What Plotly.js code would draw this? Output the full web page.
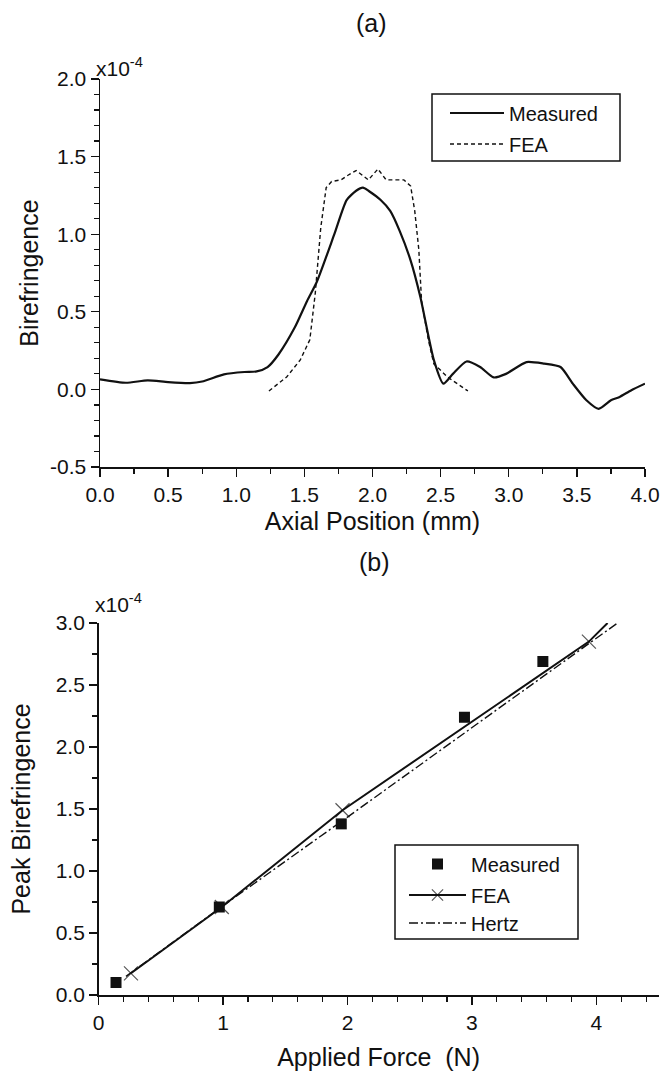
<!DOCTYPE html>
<html>
<head>
<meta charset="utf-8">
<script src="https://cdn.plot.ly/plotly-3.0.1.min.js"></script>
<style>html,body{margin:0;padding:0;background:#fff;}#chart{width:661px;height:1074px;}</style>
</head>
<body>
<div id="chart"></div>
<script>
// ---------- Panel (a): birefringence vs axial position (units of 1e-4) ----------
var measX = [0.00,0.19,0.35,0.50,0.66,0.75,0.91,1.06,1.15,1.23,1.31,1.43,1.52,1.59,1.72,1.81,1.88,1.93,1.97,2.06,2.13,2.20,2.28,2.35,2.45,2.52,2.59,2.69,2.79,2.89,2.98,3.13,3.26,3.38,3.47,3.57,3.66,3.75,3.81,3.90,4.00];
var measY = [0.065,0.043,0.058,0.047,0.041,0.051,0.097,0.112,0.116,0.144,0.225,0.40,0.57,0.69,1.00,1.22,1.28,1.30,1.28,1.22,1.15,1.02,0.83,0.60,0.19,0.037,0.10,0.18,0.144,0.077,0.10,0.176,0.166,0.144,0.037,-0.07,-0.125,-0.07,-0.05,-0.005,0.037];
var feaX = [1.24,1.37,1.47,1.54,1.58,1.62,1.66,1.70,1.77,1.82,1.88,1.97,2.04,2.10,2.23,2.28,2.31,2.34,2.36,2.41,2.45,2.55,2.70];
var feaY = [-0.01,0.08,0.19,0.32,0.62,1.04,1.30,1.34,1.35,1.38,1.41,1.35,1.42,1.35,1.35,1.31,1.15,0.90,0.57,0.32,0.165,0.08,-0.01];
var aYTicks = [-0.5,0.0,0.5,1.0,1.5,2.0];
var aYLabels = ["-0.5","0.0","0.5","1.0","1.5","2.0"];

// ---------- Panel (b): peak birefringence vs applied force (units of 1e-4) ----------
var forceMeas = [0.14,0.97,1.95,2.94,3.57];
var peakMeas  = [0.10,0.71,1.38,2.24,2.69];
var forceFEA  = [0.26,0.99,1.96,3.94,4.09];
var peakFEA   = [0.175,0.71,1.49,2.85,3.00];
var forceHertz = [0.22,1.00,2.00,3.00,4.17];
var peakHertz  = [0.15,0.72,1.435,2.155,3.00];

var W = 661, H = 1074;
function px(x){ return x / W; }
function py(y){ return 1 - y / H; }

var FONT = "Liberation Sans, Arial, Helvetica, sans-serif";

var traces = [
  {x: measX, y: measY, xaxis:'x', yaxis:'y', mode:'lines', name:'Measured',
   line:{color:'#111', width:2.2, shape:'spline', smoothing:0.6}, legend:'legend'},
  {x: feaX, y: feaY, xaxis:'x', yaxis:'y', mode:'lines', name:'FEA',
   line:{color:'#111', width:1.4, dash:'4px,3px'}, legend:'legend2'},
  {x: forceHertz, y: peakHertz, xaxis:'x2', yaxis:'y2', mode:'lines', name:'Hertz',
   line:{color:'#111', width:1.4, dash:'9px,3px,2px,3px'}, legend:'legend5'},
  {x: forceFEA, y: peakFEA, xaxis:'x2', yaxis:'y2', mode:'lines+markers', name:'FEA',
   line:{color:'#111', width:2},
   marker:{symbol:'x-thin-open', size:[14,14,14,14,0], color:'#111', line:{color:'#111', width:1.2}},
   legend:'legend4'},
  {x: forceMeas, y: peakMeas, xaxis:'x2', yaxis:'y2', mode:'markers', name:'Measured',
   marker:{symbol:'square', size:11, color:'#111'}, legend:'legend3'}
];

var axBase = {
  showline:true, linecolor:'#111', linewidth:1.5, mirror:false,
  showgrid:false, zeroline:false,
  ticks:'outside', ticklen:8, tickwidth:1.3, tickcolor:'#111',
  tickfont:{family:FONT, size:21, color:'#111'},
  fixedrange:true
};
function ax(extra){ var o = JSON.parse(JSON.stringify(axBase)); for (var k in extra) o[k]=extra[k]; return o; }

function legendAt(x, y, iw){
  return {x:px(x), y:py(y), xanchor:'left', yanchor:'middle', bgcolor:'rgba(0,0,0,0)',
          borderwidth:0, itemwidth:iw, font:{family:FONT, size:20, color:'#111'}, itemclick:false};
}

var layout = {
  width: W, height: H,
  margin:{l:0, r:0, t:0, b:0},
  paper_bgcolor:'#fff', plot_bgcolor:'#fff',
  font:{family:FONT, color:'#111'},
  showlegend:true,
  xaxis: ax({domain:[px(100), px(645)], range:[0,4], anchor:'y', tick0:0, dtick:0.5, tickformat:'.1f',
    minor:{dtick:0.25, ticks:'outside', ticklen:5, tickwidth:1.2, tickcolor:'#111'},
    title:{text:'Axial Position (mm)', font:{family:FONT, size:25, color:'#111'}, standoff:8}}),
  yaxis: ax({domain:[py(467), py(79)], range:[-0.5,2.0], anchor:'x', tickmode:'array',
    tickvals:aYTicks, ticktext:aYLabels,
    minor:{tickmode:'linear', tick0:0, dtick:0.1, ticks:'outside', ticklen:5, tickwidth:1.2, tickcolor:'#111'},
    title:{text:'Birefringence', font:{family:FONT, size:25, color:'#111'}, standoff:4}}),
  xaxis2: ax({domain:[px(98.6), px(658.6)], range:[0,4.5], anchor:'y2', tick0:0, dtick:1,
    minor:{dtick:0.2, ticks:'outside', ticklen:5, tickwidth:1.2, tickcolor:'#111'},
    title:{text:'Applied Force  (N)', font:{family:FONT, size:25, color:'#111'}, standoff:16}}),
  yaxis2: ax({domain:[py(995), py(623)], range:[0,3.0], anchor:'x2', tick0:0, dtick:0.5, tickformat:'.1f',
    minor:{dtick:0.25, ticks:'outside', ticklen:5, tickwidth:1.2, tickcolor:'#111'},
    title:{text:'Peak Birefringence', font:{family:FONT, size:25, color:'#111'}, standoff:18}}),
  legend:  legendAt(445, 113, 54),
  legend2: legendAt(445, 144, 54),
  legend3: legendAt(404, 864, 57),
  legend4: legendAt(404, 895, 57),
  legend5: legendAt(404, 923, 57),
  shapes: [
    {type:'rect', xref:'paper', yref:'paper', x0:px(432), x1:px(620), y0:py(161), y1:py(94),
     line:{color:'#111', width:1.5}, fillcolor:'rgba(0,0,0,0)', layer:'below'},
    {type:'rect', xref:'paper', yref:'paper', x0:px(395), x1:px(578), y0:py(939), y1:py(845),
     line:{color:'#111', width:1.5}, fillcolor:'rgba(0,0,0,0)', layer:'below'}
  ],
  annotations: [
    {text:'(a)', xref:'paper', yref:'paper', x:px(372), y:py(23), xanchor:'center', yanchor:'middle',
     showarrow:false, font:{family:FONT, size:25, color:'#111'}},
    {text:'(b)', xref:'paper', yref:'paper', x:px(374), y:py(562), xanchor:'center', yanchor:'middle',
     showarrow:false, font:{family:FONT, size:25, color:'#111'}},
    {text:'x10<sup>-4</sup>', xref:'paper', yref:'paper', x:px(94), y:py(82), xanchor:'left', yanchor:'bottom',
     showarrow:false, font:{family:FONT, size:21, color:'#111'}},
    {text:'x10<sup>-4</sup>', xref:'paper', yref:'paper', x:px(93), y:py(618), xanchor:'left', yanchor:'bottom',
     showarrow:false, font:{family:FONT, size:21, color:'#111'}}
  ]
};

Plotly.newPlot('chart', traces, layout, {displayModeBar:false, staticPlot:true});
</script>
</body>
</html>
